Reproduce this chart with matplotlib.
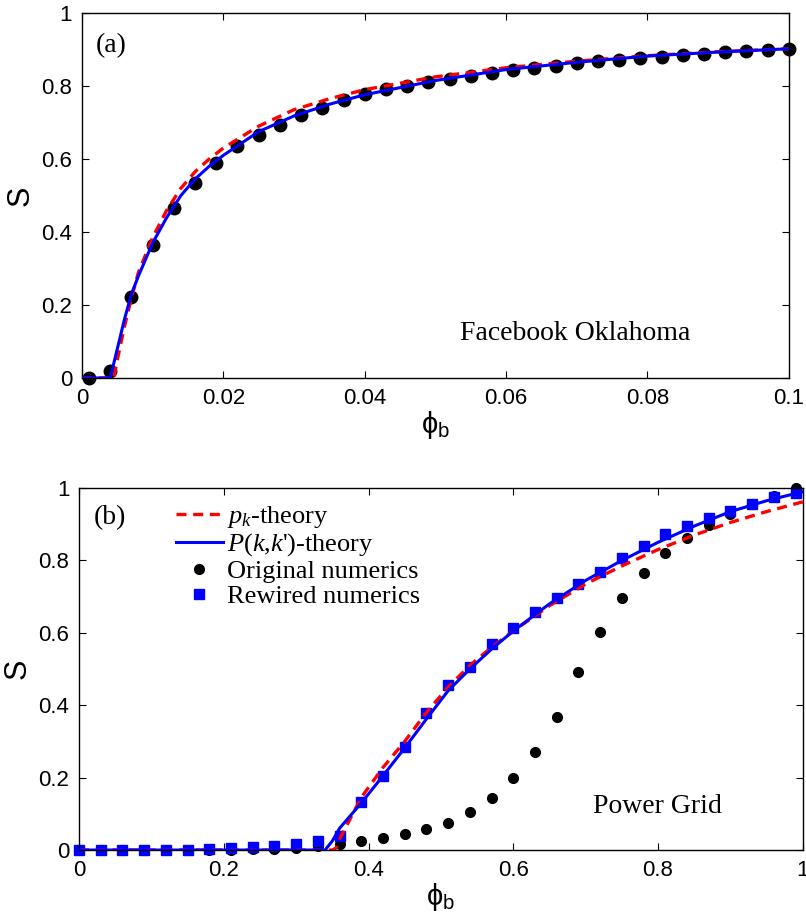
import matplotlib
matplotlib.use("Agg")
import matplotlib.pyplot as plt
from matplotlib.ticker import FuncFormatter

plt.rcParams["font.family"] = ["Liberation Sans", "DejaVu Sans"]
plt.rcParams["mathtext.fontset"] = "custom"
plt.rcParams["mathtext.rm"] = "Liberation Serif"
plt.rcParams["mathtext.it"] = "Liberation Serif:italic"
plt.rcParams["mathtext.sf"] = "Liberation Sans"

# (a) Facebook Oklahoma
fb_phi = [0.001, 0.004, 0.007, 0.010, 0.013, 0.016, 0.019, 0.022, 0.025, 0.028,
          0.031, 0.034, 0.037, 0.040, 0.043, 0.046, 0.049, 0.052, 0.055, 0.058,
          0.061, 0.064, 0.067, 0.070, 0.073, 0.076, 0.079, 0.082, 0.085, 0.088,
          0.091, 0.094, 0.097, 0.100]
fb_num = [0.0, 0.02, 0.223, 0.364, 0.465, 0.535, 0.588, 0.636, 0.666, 0.693,
          0.720, 0.741, 0.762, 0.777, 0.791, 0.800, 0.812, 0.819, 0.828, 0.836,
          0.844, 0.850, 0.856, 0.862, 0.868, 0.871, 0.876, 0.880, 0.885, 0.889,
          0.892, 0.896, 0.899, 0.900]

fb_pk_phi = [0, 0.0045, 0.005, 0.006, 0.007, 0.008, 0.010, 0.012, 0.014, 0.016,
             0.018, 0.020, 0.025, 0.030, 0.035, 0.040, 0.050, 0.060, 0.070,
             0.080, 0.090, 0.100]
fb_pk = [0, 0, 0.05, 0.14, 0.22, 0.29, 0.385, 0.46, 0.52, 0.565,
         0.60, 0.63, 0.69, 0.735, 0.765, 0.79, 0.825, 0.85, 0.868,
         0.883, 0.894, 0.902]

fb_pkk_phi = [0, 0.004, 0.005, 0.006, 0.007, 0.008, 0.010, 0.012, 0.014, 0.016,
              0.018, 0.020, 0.025, 0.030, 0.035, 0.040, 0.050, 0.060, 0.070,
              0.080, 0.090, 0.100]
fb_pkk = [0, 0, 0.08, 0.16, 0.23, 0.28, 0.37, 0.44, 0.50, 0.545,
          0.58, 0.61, 0.675, 0.718, 0.75, 0.776, 0.815, 0.845, 0.865,
          0.882, 0.893, 0.902]

# (b) Power Grid
pg_phi = [0.00, 0.03, 0.06, 0.09, 0.12, 0.15, 0.18, 0.21, 0.24, 0.27,
          0.30, 0.33, 0.36, 0.39, 0.42, 0.45, 0.48, 0.51, 0.54, 0.57,
          0.60, 0.63, 0.66, 0.69, 0.72, 0.75, 0.78, 0.81, 0.84, 0.87,
          0.90, 0.93, 0.96, 0.99]
pg_orig = [0, 0, 0, 0, 0, 0, 0, 0.001, 0.002, 0.003,
           0.005, 0.012, 0.016, 0.025, 0.032, 0.044, 0.058, 0.076, 0.106, 0.143,
           0.198, 0.272, 0.367, 0.491, 0.601, 0.697, 0.764, 0.820, 0.863, 0.898,
           0.928, 0.955, 0.979, 0.999]
pg_rewired = [0, 0, 0, 0, 0, 0, 0.002, 0.006, 0.009, 0.012,
              0.017, 0.025, 0.039, 0.134, 0.204, 0.285, 0.379, 0.456, 0.506, 0.569,
              0.614, 0.658, 0.697, 0.734, 0.769, 0.807, 0.840, 0.872, 0.895, 0.916,
              0.936, 0.956, 0.974, 0.985]

pg_pk_phi = [0, 0.35, 0.355, 0.36, 0.39, 0.42, 0.45, 0.48, 0.51, 0.54, 0.57,
             0.60, 0.65, 0.70, 0.75, 0.80, 0.85, 0.90, 0.95, 1.0]
pg_pk = [0, 0, 0.005, 0.03, 0.145, 0.228, 0.30, 0.38, 0.45, 0.51, 0.56,
         0.605, 0.675, 0.735, 0.785, 0.83, 0.87, 0.905, 0.935, 0.962]

pg_pkk_phi = [0, 0.34, 0.35, 0.36, 0.39, 0.42, 0.45, 0.48, 0.51, 0.54, 0.57,
              0.60, 0.65, 0.70, 0.75, 0.80, 0.85, 0.90, 0.95, 1.0]
pg_pkk = [0, 0, 0.025, 0.06, 0.13, 0.205, 0.282, 0.362, 0.44, 0.50, 0.555,
          0.605, 0.68, 0.745, 0.80, 0.85, 0.895, 0.935, 0.965, 0.99]

SERIF = "Liberation Serif"


def style_axes(ax):
    ax.tick_params(direction="in", top=True, right=True, length=5,
                   width=0.8, labelsize=16, pad=7)
    for sp in ax.spines.values():
        sp.set_linewidth(1.0)
    fmt = FuncFormatter(lambda v, _: f"{v:g}")
    ax.xaxis.set_major_formatter(fmt)
    ax.yaxis.set_major_formatter(fmt)
    ax.set_ylim(0, 1)
    ax.set_yticks([0, 0.2, 0.4, 0.6, 0.8, 1])
    ax.set_ylabel("S", fontsize=22, labelpad=4)
    ax.set_xlabel(r"$\mathsf{\phi}_\mathsf{b}$", fontsize=21, labelpad=0)


fig = plt.figure(figsize=(8.06, 9.15), dpi=100)
ax1 = fig.add_axes([0.1017, 0.5869, 0.877, 0.3989])
ax2 = fig.add_axes([0.098, 0.0710, 0.898, 0.3956])

ax1.plot(fb_pk_phi, fb_pk, "--", color="red", lw=2.4, dashes=(3, 2), zorder=2)
ax1.plot(fb_pkk_phi, fb_pkk, "-", color="blue", lw=2.2, zorder=3)
ax1.plot(fb_phi, fb_num, "o", color="black", ms=9, zorder=1, clip_on=False)
ax1.set_xlim(0, 0.1)
ax1.set_xticks([0, 0.02, 0.04, 0.06, 0.08, 0.1])
style_axes(ax1)
ax1.text(0.020, 0.912, "(a)", transform=ax1.transAxes, fontsize=20,
         family=SERIF, va="center")
ax1.text(0.535, 0.123, "Facebook Oklahoma", transform=ax1.transAxes,
         fontsize=20, family=SERIF, va="center")

ax2.plot(pg_pk_phi, pg_pk, "--", color="red", lw=2.4, dashes=(3, 2), zorder=2,
         label=r"$p_k$-theory")
ax2.plot(pg_pkk_phi, pg_pkk, "-", color="blue", lw=2.2, zorder=3,
         label=r"$P$($k$,$k$')-theory")
ax2.plot(pg_phi, pg_orig, "o", color="black", ms=7, zorder=1, clip_on=False,
         label="Original numerics")
ax2.plot(pg_phi, pg_rewired, "s", color="blue", ms=6.5, zorder=1,
         clip_on=False, label="Rewired numerics")
ax2.set_xlim(0, 1)
ax2.set_xticks([0, 0.2, 0.4, 0.6, 0.8, 1])
style_axes(ax2)
ax2.text(0.020, 0.917, "(b)", transform=ax2.transAxes, fontsize=20,
         family=SERIF, va="center")
ax2.text(0.71, 0.12, "Power Grid", transform=ax2.transAxes,
         fontsize=20, family=SERIF, va="center")
ax2.legend(loc="upper left", bbox_to_anchor=(0.12, 0.985), frameon=False,
           prop={"family": SERIF, "size": 19},
           handlelength=1.75, handletextpad=0.15, labelspacing=0.05,
           borderaxespad=0)

fig.savefig("out.png", dpi=100)
